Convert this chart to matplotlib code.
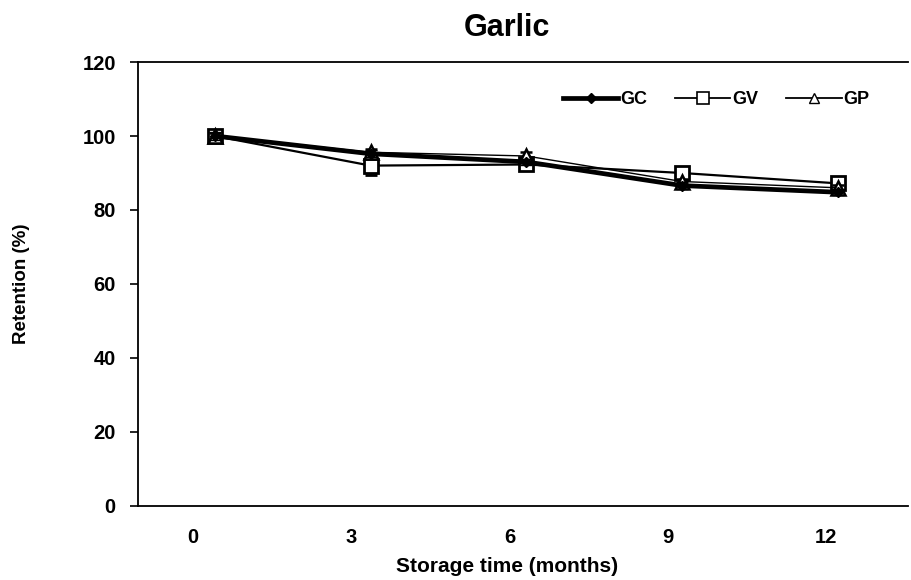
import numpy as np
import matplotlib
matplotlib.use('Agg')
import matplotlib.pyplot as plt
from matplotlib.lines import Line2D

plt.rcParams['font.family'] = ['Liberation Sans', 'DejaVu Sans']
plt.rcParams['font.weight'] = 'bold'

months = [0, 3, 6, 9, 12]
month_labels = ['0', '3', '6', '9', '12']
gc = [100, 95.2, 93.0, 86.6, 84.8]
gv = [100, 92.0, 92.3, 90.0, 87.2]
gp = [100, 95.6, 94.6, 87.7, 86.0]
gc_err = [1.0, 1.0, 0.8, 1.0, 0.8]
gv_err = [0.8, 2.6, 0.8, 0.8, 0.8]
gp_err = [0.8, 1.0, 1.0, 0.8, 0.8]

fig = plt.figure(figsize=(9.11, 5.8), dpi=100)
ax = fig.add_axes([0.1515, 0.1276, 0.845, 0.7655])

x = np.array(months, dtype=float)
ax.errorbar(x, gv, yerr=gv_err, color='black', lw=1.6, marker='s', ms=10,
            mfc='white', mec='black', mew=2, capsize=4, elinewidth=1.5, zorder=3)
ax.errorbar(x, gp, yerr=gp_err, color='black', lw=1.0, marker='^', ms=10,
            mfc='white', mec='black', mew=1.8, capsize=4, elinewidth=1.2, zorder=4)
ax.errorbar(x, gc, yerr=gc_err, color='black', lw=3.4, marker='D', ms=5,
            mfc='black', mec='black', capsize=4, elinewidth=1.2, zorder=5)

ax.set_xlim(-1.48, 13.35)
ax.set_ylim(0, 120)
ax.set_yticks(np.arange(0, 121, 20))
ax.set_xticks(x * 1.016 - 0.42)
ax.set_xticklabels(month_labels)
ax.tick_params(axis='x', length=0, pad=16, labelsize=14.5)
ax.tick_params(axis='y', length=6, width=1.2, pad=10, labelsize=14.5)
ax.spines['right'].set_visible(False)
for s in ['left', 'top', 'bottom']:
    ax.spines[s].set_linewidth(1.3)

ax.set_title('Garlic', fontsize=22, fontweight='bold', pad=19, x=0.479)
ax.set_xlabel('Storage time (months)', fontsize=15, fontweight='bold', labelpad=7)
ax.xaxis.label.set_x(0.479)
ax.set_ylabel('Retention (%)', fontsize=13.5, fontweight='bold', labelpad=38)

handles = [
    Line2D([], [], color='black', lw=3.4, marker='D', ms=5, mfc='black'),
    Line2D([], [], color='black', lw=1.3, marker='s', ms=9, mfc='white', mec='black', mew=1.2),
    Line2D([], [], color='black', lw=1.3, marker='^', ms=7, mfc='white', mec='black', mew=1.0),
]
ax.legend(handles, ['GC', 'GV', 'GP'], ncol=3, frameon=False, borderpad=0,
          loc='center left', bbox_to_anchor=(554 / 911, 1 - 100 / 580),
          bbox_transform=fig.transFigure, fontsize=13,
          handlelength=3.05, columnspacing=1.55, handletextpad=0.12)

fig.savefig('out.png', dpi=100)
